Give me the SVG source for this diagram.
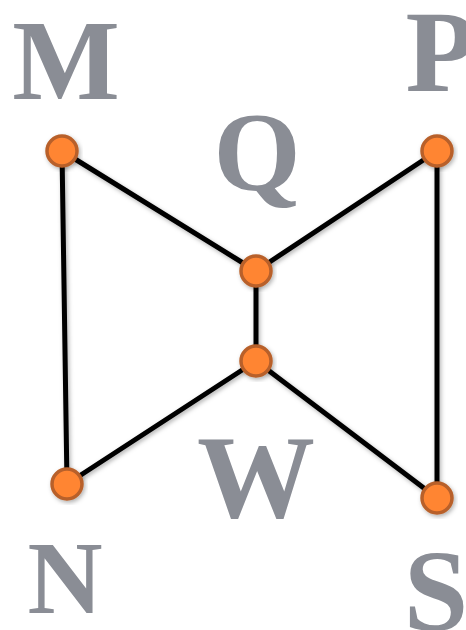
<svg xmlns="http://www.w3.org/2000/svg" width="466" height="630" viewBox="0 0 466 630">
<defs>
<filter id="sh" x="-20%" y="-20%" width="140%" height="140%"><feDropShadow dx="1.5" dy="2" stdDeviation="2" flood-color="#000" flood-opacity="0.3"/></filter>
<style>
.lbl{font-family:"Liberation Serif","DejaVu Serif",serif;font-weight:bold;fill:#8a8d95;text-anchor:middle}
.e{stroke:#000;stroke-width:5;fill:none;stroke-linecap:round}
.n{fill:#ff8533;stroke:#b8602a;stroke-width:3.5}
</style>
</defs>
<rect width="466" height="630" fill="#fff"/>
<g id="edges" filter="url(#sh)">
<line class="e" x1="62" y1="151" x2="256" y2="271"/>
<line class="e" x1="62" y1="151" x2="67" y2="484"/>
<line class="e" x1="437" y1="151" x2="256" y2="271"/>
<line class="e" x1="437" y1="151" x2="437" y2="498"/>
<line class="e" x1="256" y1="271" x2="256" y2="361"/>
<line class="e" x1="256" y1="361" x2="67" y2="484"/>
<line class="e" x1="256" y1="361" x2="437" y2="498"/>
</g>
<g id="M"><circle class="n" cx="62" cy="151" r="15" filter="url(#sh)"/><text class="lbl" x="66" y="99" font-size="114">M</text></g>
<g id="P"><circle class="n" cx="437" cy="151" r="15" filter="url(#sh)"/><text class="lbl" x="441" y="91" font-size="116">P</text></g>
<g id="Q"><circle class="n" cx="256" cy="271" r="15" filter="url(#sh)"/><text class="lbl" x="257" y="190" font-size="112">Q</text></g>
<g id="W"><circle class="n" cx="256" cy="361" r="15" filter="url(#sh)"/><text class="lbl" x="256" y="517" font-size="118">W</text></g>
<g id="N"><circle class="n" cx="67" cy="484" r="15" filter="url(#sh)"/><text class="lbl" x="65" y="613" font-size="104">N</text></g>
<g id="S"><circle class="n" cx="437" cy="498" r="15" filter="url(#sh)"/><text class="lbl" x="436" y="630" font-size="116">S</text></g>
</svg>
